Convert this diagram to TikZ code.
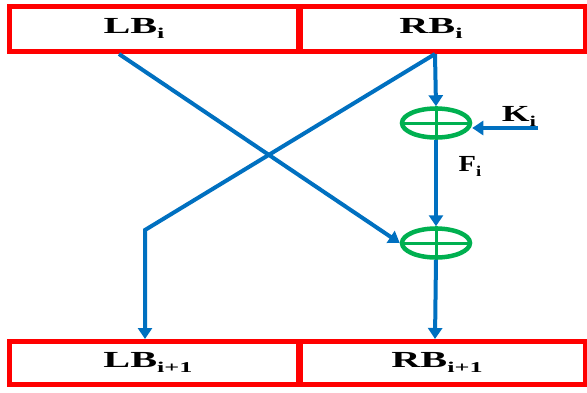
\documentclass[tikz,border=0pt]{standalone}
\usepackage{fontspec}
\setmainfont{Liberation Serif}
\usetikzlibrary{arrows.meta,shapes.geometric}
\definecolor{boxred}{RGB}{255,0,0}
\definecolor{flowblue}{RGB}{0,112,192}
\definecolor{xorgreen}{RGB}{0,176,80}
% bold label with a lowered subscript
\newcommand{\blocklbl}[2]{\bfseries #1\raisebox{-5pt}{\fontsize{15}{15}\selectfont\bfseries #2}}
\begin{document}
\begin{tikzpicture}[x=1pt,y=-1pt,
  halfbox/.style={draw=boxred,line width=5pt},
  flow/.style={draw=flowblue,line width=4pt,line join=miter,
    -{Triangle[width=14pt,length=11pt]}},
  xorring/.style={draw=xorgreen,line width=4.5pt,ellipse,minimum width=68pt,
    minimum height=29pt,inner sep=0pt},
  lbl/.style={font=\fontsize{23}{23}\selectfont,inner sep=0pt,xscale=1.75},
  sidelbl/.style={font=\fontsize{23}{23}\selectfont,inner sep=0pt,xscale=1.55}]
\useasboundingbox (0,0) rectangle (587,392);

% the four half-blocks
\draw[halfbox] (9,6) rectangle (298,51.5);
\draw[halfbox] (300,6) rectangle (585,51.5);
\draw[halfbox] (9,341.5) rectangle (298,384);
\draw[halfbox] (300,341.5) rectangle (585,384);
\node[lbl] (lbi) at (134,28) {\blocklbl{LB}{i}};
\node[lbl] (rbi) at (431,28) {\blocklbl{RB}{i}};
\node[lbl] (lbn) at (148,362) {\blocklbl{LB}{i+1}};
\node[lbl] (rbn) at (437,362) {\blocklbl{RB}{i+1}};

% attachment points on the block edges
\coordinate (lbout) at (119,54);
\coordinate (rbout) at (435,54);
\coordinate (lbin) at (145,339);
\coordinate (rbin) at (435,339);
\coordinate (bend) at (145,230);
\coordinate (kin) at (538,128);

% XOR stages
\node[xorring] (x1) at (436,123) {};
\draw[xorgreen,line width=3pt] (x1.west) -- (x1.east) (x1.north) -- (x1.south);
\node[xorring] (x2) at (436,243) {};
\draw[xorgreen,line width=3pt] (x2.west) -- (x2.east) (x2.north) -- (x2.south);

% data flow
\draw[flow] (rbout) -- (x1.north);
\draw[flow] (x1.south) -- (x2.north);
\draw[flow] (x2.south) -- (rbin);
\draw[flow] (rbout) -- (bend) -- (lbin);
\draw[flow] (lbout) -- (x2.west);
\draw[flow] (kin) -- (x1.east |- kin);

\node[sidelbl] (k) at (519,116) {\blocklbl{K}{i}};
\node[sidelbl,xscale=0.8] (f) at (470,166) {\blocklbl{F}{i}};
\end{tikzpicture}
\end{document}
